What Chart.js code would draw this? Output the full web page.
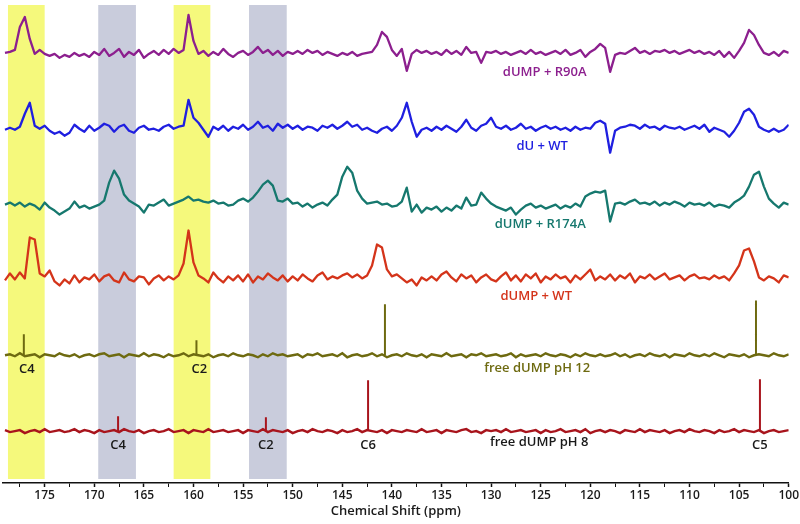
<!DOCTYPE html>
<html>
<head>
<meta charset="utf-8">
<script src="https://cdn.jsdelivr.net/npm/chart.js@4.4.1/dist/chart.umd.min.js"></script>
<style>
  html, body { margin: 0; padding: 0; background: #fff; }
  #wrap { width: 800px; height: 524px; }
</style>
</head>
<body>
<div id="wrap"><canvas id="nmrChart" width="800" height="524"></canvas></div>
<script>
// chemical shift grid (ppm) shared by every trace
const shifts = [179,178.5,178,177.5,177,176.5,176,175.5,175,174.5,174,173.5,173,172.5,172,171.5,171,170.5,170,169.5,
  169,168.5,168,167.5,167,166.5,166,165.5,165,164.5,164,163.5,163,162.5,162,161.5,161,160.5,160,159.5,
  159,158.5,158,157.5,157,156.5,156,155.5,155,154.5,154,153.5,153,152.5,152,151.5,151,150.5,150,149.5,
  149,148.5,148,147.5,147,146.5,146,145.5,145,144.5,144,143.5,143,142.5,142,141.5,141,140.5,140,139.5,
  139,138.5,138,137.5,137,136.5,136,135.5,135,134.5,134,133.5,133,132.5,132,131.5,131,130.5,130,129.5,
  129,128.5,128,127.5,127,126.5,126,125.5,125,124.5,124,123.5,123,122.5,122,121.5,121,120.5,120,119.5,
  119,118.5,118,117.5,117,116.5,116,115.5,115,114.5,114,113.5,113,112.5,112,111.5,111,110.5,110,109.5,
  109,108.5,108,107.5,107,106.5,106,105.5,105,104.5,104,103.5,103,102.5,102,101.5,101,100.5,100];

// intensities (arbitrary units)
const r90aIntensity = [0,1,3,26,36,14,-1,3,-1,-3, -1,-5,-2,-4,0,-3,-1,-4,1,-2,
  4,-3,0,4,-4,1,-2,3,-5,-1, 2,-2,3,-1,4,0,3,38,12,-1,
  2,-3,1,-2,4,-1,-4,0,2,-2, 1,6,0,3,-2,2,-3,1,-1,2,
  -1,3,0,2,-2,1,-1,-3,0,-2, 1,-3,-1,0,1,8,21,16,3,-3,
  4,-18,-1,3,0,2,-1,1,-2,3, -1,2,-2,6,0,1,-10,1,0,2,
  -1,1,-2,0,2,-1,3,-1,1,-2, 0,2,-1,3,-2,0,3,-4,1,4,
  9,5,-19,-2,0,-1,2,5,0,2, -1,2,1,3,0,2,-1,1,3,0,
  2,-1,1,-2,2,-4,1,-5,2,10, 23,18,8,0,-2,1,-3,2,0];

const duWtIntensity = [-2,0,-2,1,14,25,2,-1,2,-3, -6,-4,-8,-5,3,-1,-4,2,-3,0,
  4,2,-4,1,3,-3,-5,0,2,-2, -1,-3,1,3,-1,1,2,28,10,5,
  -2,-9,1,-2,2,-3,1,-1,3,-2, 1,6,0,2,-3,4,0,3,-1,2,
  -2,1,0,-3,2,0,3,-1,2,6, 1,3,-2,0,-3,-5,-1,1,-3,2,
  10,25,6,-9,-2,0,-3,1,-2,2, -1,-4,1,8,0,-3,2,4,10,1,
  -1,2,-2,0,4,-1,1,-3,0,2, -1,1,-2,0,-3,1,-2,0,-1,5,
  7,4,-25,-3,0,1,3,2,-1,3, 0,1,-2,2,0,-1,1,-2,0,2,
  -1,3,-4,0,-2,-4,-9,-3,5,16, 19,13,1,-2,-4,-1,-4,-2,3];

const r174aIntensity = [0,2,-1,2,-2,1,-1,-5,2,-3, -6,-10,-7,-4,3,-3,-1,-4,-2,0,
  4,22,34,26,10,4,1,-2,-8,0, -1,2,5,-1,1,3,5,8,4,5,
  3,2,4,1,2,-1,0,4,6,3, 7,13,20,24,19,4,3,6,1,2,
  -2,1,-3,0,2,-1,5,10,28,38, 32,14,6,1,2,3,0,1,-2,-1,
  3,17,-7,0,-8,-3,-5,-2,-7,-3, -6,-1,-4,7,-1,0,12,6,1,-2,
  -4,-6,-3,-10,-5,-1,1,-3,-1,-4, -2,0,-4,-1,-3,1,-2,8,11,13,
  12,14,-17,1,2,0,3,5,1,2, 0,3,-1,2,0,3,1,-2,2,0,
  1,-1,2,-2,0,-1,-3,2,5,9, 18,30,33,18,6,1,-3,2,0];

const wtIntensity = [-3,4,-2,5,-1,40,38,4,1,7, -4,-8,-2,-6,2,-5,0,-2,3,-4,
  1,3,-3,-5,5,-2,-4,1,0,-7, -1,2,-3,1,-2,2,14,47,15,2,
  -1,-5,5,-1,-5,1,-3,2,-4,3, -5,1,-2,4,0,-3,2,-4,1,-3,
  3,-1,-4,2,5,-2,1,-1,2,4, 0,3,-1,2,12,33,30,8,1,3,
  -1,-5,-2,-8,0,-3,1,-3,3,6, 0,-4,3,-1,2,-5,0,3,-2,-4,
  1,5,-3,2,-4,3,-1,4,-5,1, -2,3,-1,1,-5,2,-2,3,8,-3,
  1,-2,3,-3,2,-1,4,-5,1,-1, 3,-2,1,4,-2,0,2,-3,1,3,
  -1,0,-2,2,-1,1,-3,4,12,27, 29,16,0,-3,1,-1,-5,2,0];

const ph12Noise = [0,1,-1,2,-1,0,1,-2,1,0,-1,2,0,-1,1,-2,0,1,-1,1,
  2,-1,0,1,-2,1,0,-1,2,-1,1,0,-2,1,-1,0,2,-1,1,0,
  -1,1,-2,0,1,-1,2,0,-1,1,0,-2,1,-1,2,0,1,-1,0,1,
  -2,1,0,2,-1,0,1,-1,2,-2,0,1,-1,0,2,-1,1,-2,0,1,
  -1,2,0,-1,1,-2,1,0,-1,2,-1,0,1,-2,1,0,2,-1,0,1,
  -1,0,2,-2,1,-1,0,1,-1,2,0,-1,1,0,-2,1,-1,2,0,-1,
  1,-1,0,2,-1,1,-2,0,1,-1,2,0,-1,1,-2,1,0,-1,2,0,
  -1,1,-1,2,0,-2,1,0,-1,1,-2,0,1,0,-1,2,0,-1,1];

const ph8Noise = [1,-1,0,1,-2,0,1,-1,2,-1,0,1,-1,0,2,-1,1,0,-2,1,
  -1,0,1,-1,2,0,-1,1,-2,0,1,-1,0,2,-1,0,1,-2,1,0,
  -1,2,-1,0,1,-1,0,1,-2,1,0,-1,2,-1,1,0,-1,1,-2,0,
  1,-1,2,0,-1,1,0,-2,1,-1,0,2,-1,1,0,-1,1,-2,1,0,
  -1,1,0,-1,2,-1,0,1,-2,1,0,-1,1,2,-1,0,-2,1,0,1,
  -1,2,-1,0,1,-1,0,1,-2,1,-1,0,2,-1,0,1,-1,2,-2,0,
  1,-1,1,0,-2,1,0,-1,2,-1,1,0,-1,1,-2,0,1,-1,2,0,
  -1,1,0,-2,1,-1,0,2,-1,1,0,-1,1,-2,0,1,-1,0,1];

// sharp lines of the free nucleotide
const ph12PeakShift = [177.1, 159.7, 140.7, 103.3];
const ph12PeakHeight = [21, 15, 51, 55];
const ph12PeakName = ['C4', 'C2', '', ''];
const ph8PeakShift = [167.6, 152.7, 142.4, 102.9];
const ph8PeakHeight = [15, 14, 51, 52];
const ph8PeakName = ['C4', 'C2', 'C6', 'C5'];

const seriesNames = ['dUMP + R90A', 'dU + WT', 'dUMP + R174A', 'dUMP + WT', 'free dUMP pH 12', 'free dUMP pH 8'];

// highlighted regions (ppm)
const bandStart = [178.7, 169.6, 162.0, 154.4];
const bandEnd = [175.0, 165.8, 158.3, 150.6];

const xTickStep = 2.5;

// ---- layout / style ----
const stackOffsets = [431, 356, 279, 206, 128, 52];
const lineColors = ['#8c1f8e', '#1f1fe0', '#16786e', '#d4341a', '#6e6a10', '#a8141c'];
const labelColors = ['#8c1f8e', '#1f1fe0', '#16786e', '#d4341a', '#6e6a10', '#1a1a1a'];
const labelShift = [124.6, 124.85, 125.05, 125.45, 125.35, 125.15];
const labelDrop = [19, 19, 20, 19, 13, 11];
const bandColors = ['#f5f97c', '#c9ccdc', '#f5f97c', '#c9ccdc'];
const FONT = "'Open Sans', 'DejaVu Sans', sans-serif";

const proteinSpectra = [r90aIntensity, duWtIntensity, r174aIntensity, wtIntensity];
const freeSpectra = [
    { noise: ph12Noise, shift: ph12PeakShift, height: ph12PeakHeight, name: ph12PeakName },
    { noise: ph8Noise, shift: ph8PeakShift, height: ph8PeakHeight, name: ph8PeakName }
];

const datasets = [];
proteinSpectra.forEach((vals, i) => {
    datasets.push({
        label: seriesNames[i],
        data: shifts.map((s, k) => ({ x: s, y: stackOffsets[i] + vals[k] })),
        borderColor: lineColors[i],
        borderWidth: 2.3,
        borderJoinStyle: 'round',
        pointRadius: 0,
        tension: 0
    });
});
freeSpectra.forEach((spec, j) => {
    const i = j + 4;
    datasets.push({
        label: seriesNames[i],
        data: shifts.map((s, k) => ({ x: s, y: stackOffsets[i] + spec.noise[k] })),
        borderColor: lineColors[i],
        borderWidth: 2.4,
        pointRadius: 0,
        tension: 0
    });
    // the sharp lines, drawn as vertical sticks
    const sticks = [];
    spec.shift.forEach((s, k) => {
        sticks.push({ x: s, y: stackOffsets[i] });
        sticks.push({ x: s, y: stackOffsets[i] + spec.height[k] });
        sticks.push({ x: s, y: null });
    });
    datasets.push({
        label: seriesNames[i] + ' lines',
        data: sticks,
        borderColor: lineColors[i],
        borderWidth: 2,
        pointRadius: 0,
        spanGaps: false
    });
});

const bandPlugin = {
    id: 'bands',
    beforeDatasetsDraw(chart) {
        const { ctx, chartArea, scales } = chart;
        ctx.save();
        bandStart.forEach((s, i) => {
            const x1 = scales.x.getPixelForValue(s);
            const x2 = scales.x.getPixelForValue(bandEnd[i]);
            ctx.fillStyle = bandColors[i];
            ctx.fillRect(x1, chartArea.top, x2 - x1, chartArea.bottom - chartArea.top - 4);
        });
        ctx.restore();
    }
};

const labelPlugin = {
    id: 'traceLabels',
    afterDatasetsDraw(chart) {
        const { ctx, scales } = chart;
        ctx.save();
        ctx.font = '600 13px ' + FONT;
        ctx.textAlign = 'center';
        ctx.textBaseline = 'middle';
        seriesNames.forEach((name, i) => {
            ctx.fillStyle = labelColors[i];
            ctx.fillText(name, scales.x.getPixelForValue(labelShift[i]),
                scales.y.getPixelForValue(stackOffsets[i]) + labelDrop[i]);
        });
        ctx.fillStyle = '#1a1a1a';
        freeSpectra.forEach((spec, j) => {
            const base = scales.y.getPixelForValue(stackOffsets[j + 4]);
            spec.name.forEach((n, k) => {
                if (!n) return;
                ctx.fillText(n, scales.x.getPixelForValue(spec.shift[k]) + (j === 0 ? 3 : 0), base + 14);
            });
        });
        ctx.restore();
    }
};

const ctx = document.getElementById('nmrChart');
new Chart(ctx, {
    type: 'line',
    data: { datasets: datasets },
    plugins: [bandPlugin, labelPlugin],
    options: {
        responsive: false,
        devicePixelRatio: 1,
        animation: false,
        layout: { padding: { top: 5, left: 3, right: 10, bottom: 4 } },
        plugins: {
            legend: { display: false },
            tooltip: { enabled: false }
        },
        scales: {
            x: {
                type: 'linear',
                reverse: true,
                min: 100,
                max: 179.2,
                grid: {
                    display: true,
                    drawOnChartArea: false,
                    drawTicks: true,
                    tickLength: 4,
                    tickColor: '#111',
                    tickWidth: c => (Math.abs(c.tick.value % 5) < 1e-6 ? 1.5 : 1)
                },
                border: { display: true, color: '#111', width: 1.5 },
                ticks: {
                    stepSize: xTickStep,
                    includeBounds: false,
                    autoSkip: false,
                    maxRotation: 0,
                    padding: 1,
                    color: '#1a1a1a',
                    font: { family: FONT, size: 12, weight: '600' },
                    callback: v => (Math.abs(v % 5) < 1e-6 ? String(v) : '')
                },
                title: {
                    display: true,
                    text: 'Chemical Shift (ppm)',
                    color: '#1a1a1a',
                    padding: { top: 0, bottom: 1 },
                    font: { family: FONT, size: 13, weight: '600' }
                }
            },
            y: {
                display: false,
                min: 0,
                max: 479
            }
        }
    }
});
</script>
</body>
</html>
